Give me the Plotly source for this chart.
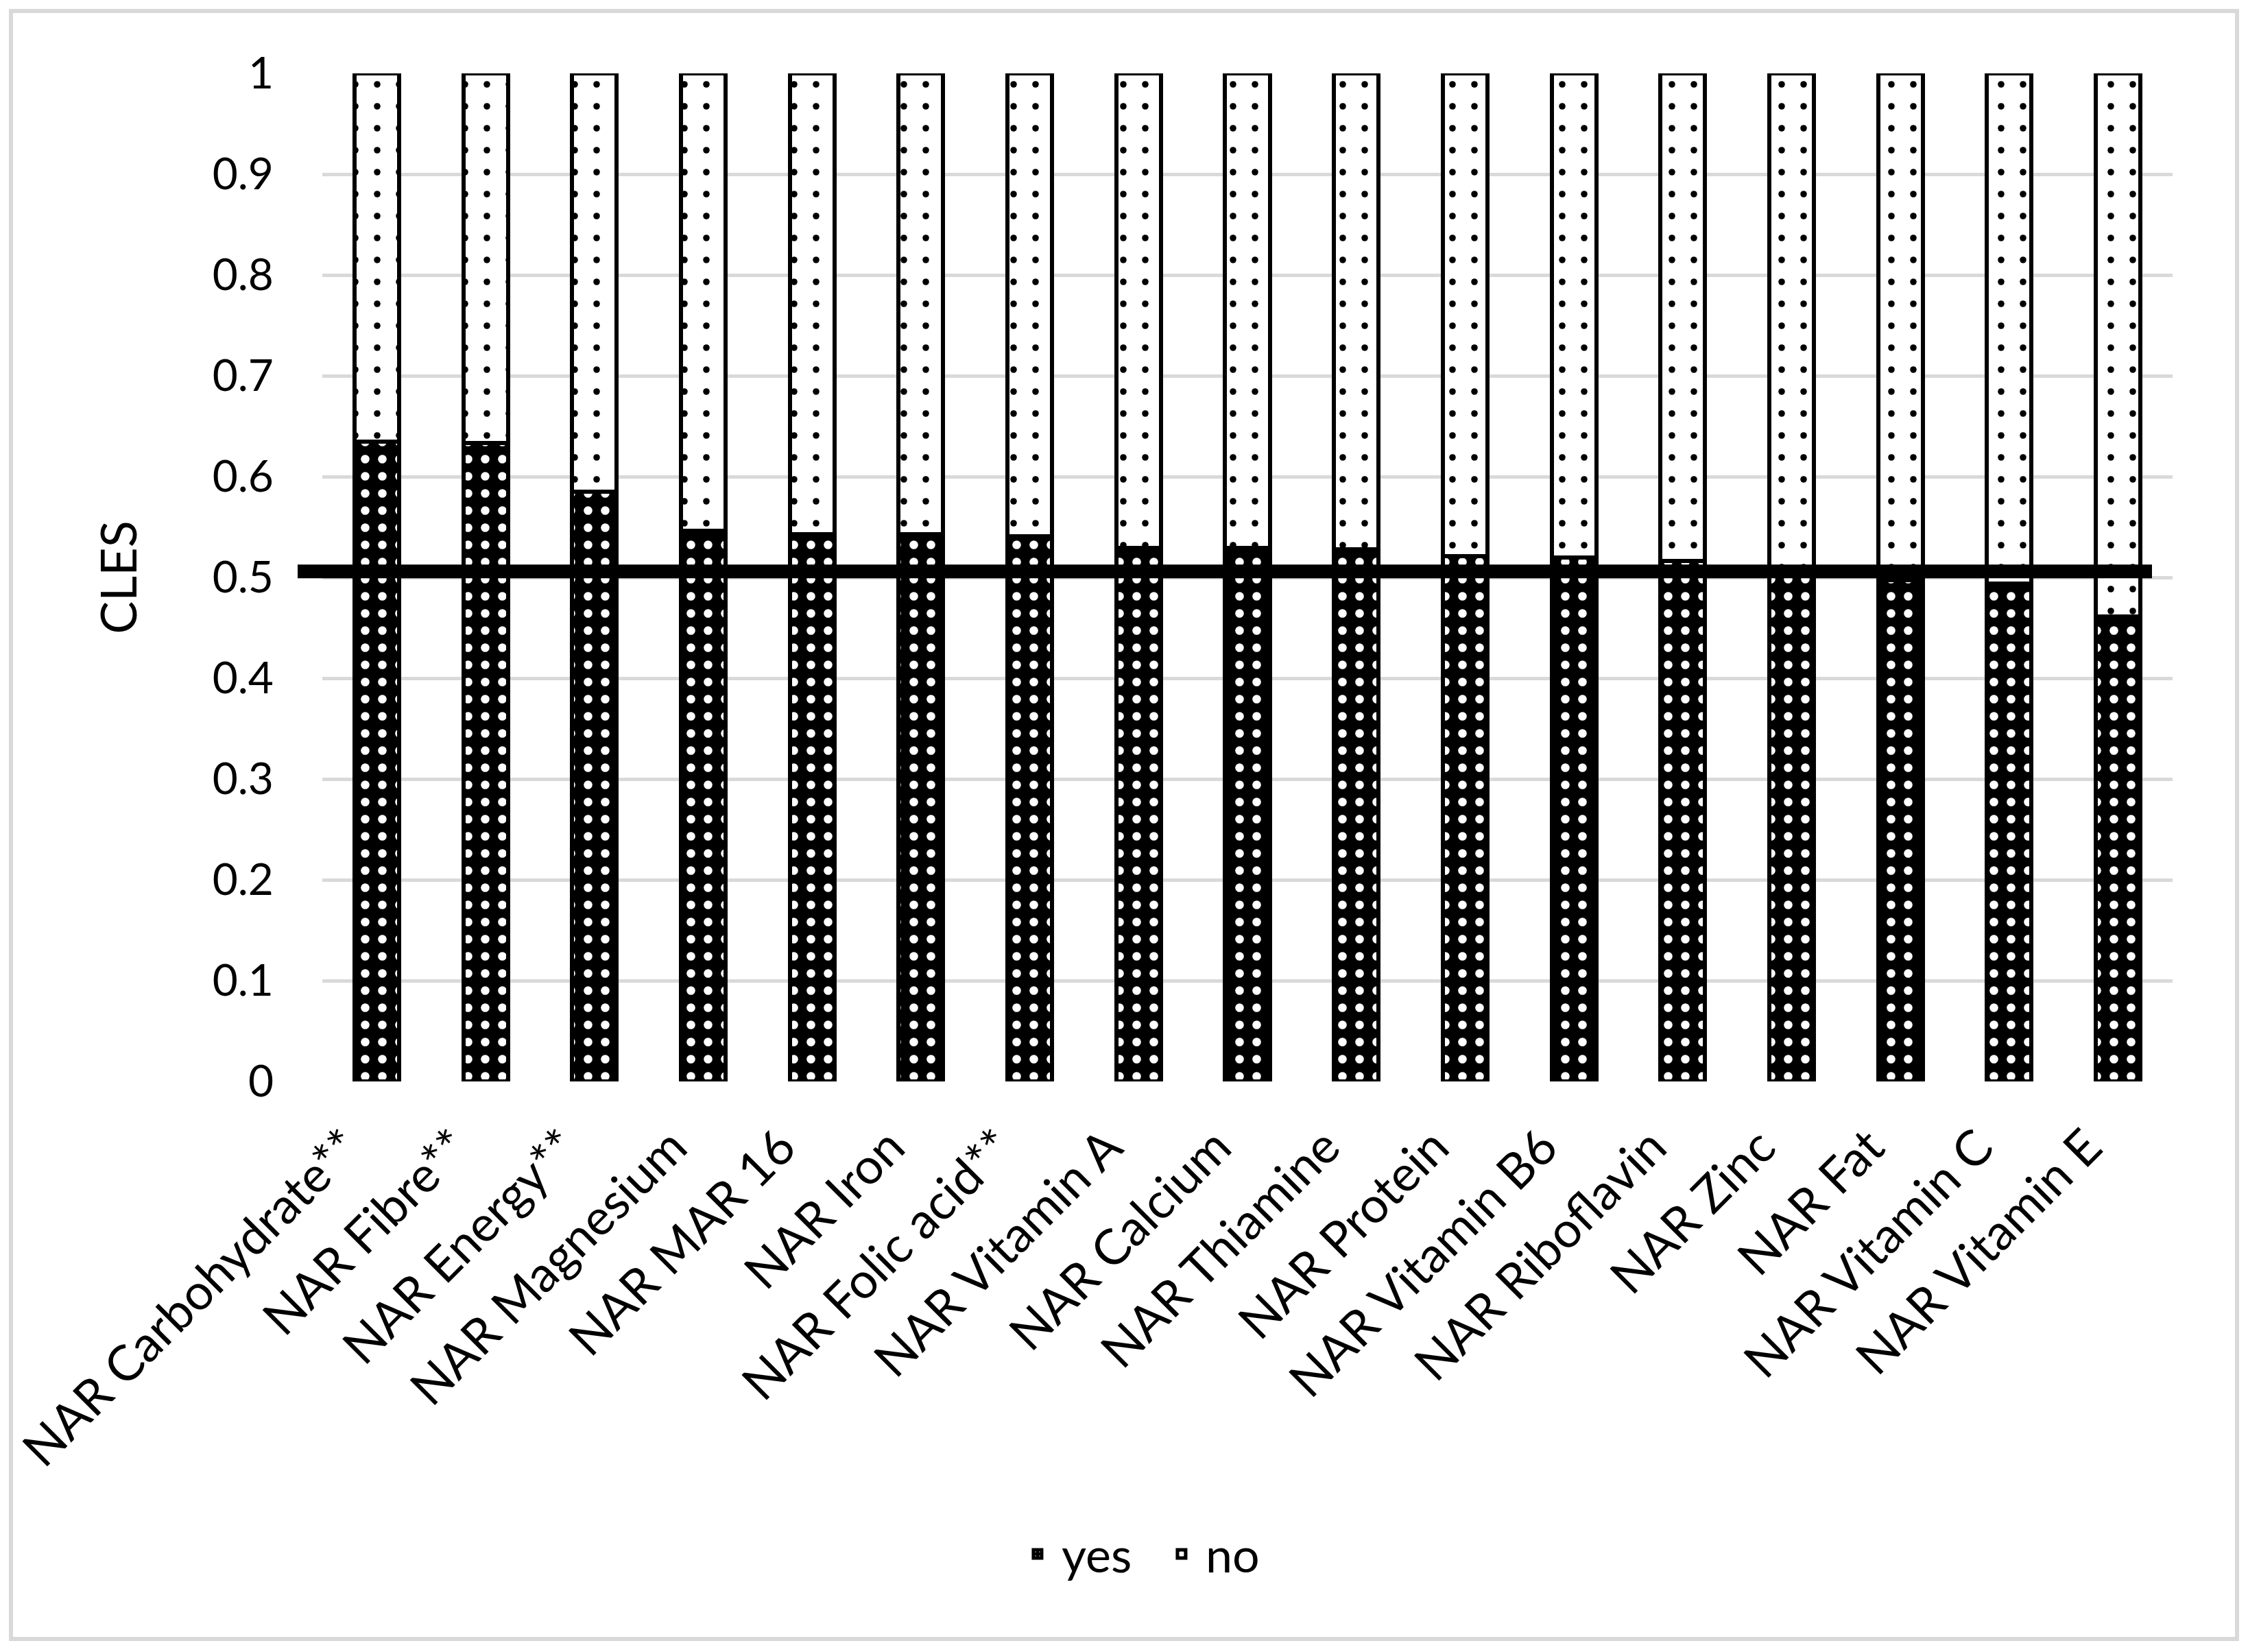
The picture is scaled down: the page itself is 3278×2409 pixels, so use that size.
import plotly.graph_objects as go

categories = [
    "NAR Carbohydrate**", "NAR Fibre**", "NAR Energy**", "NAR Magnesium",
    "NAR MAR 16", "NAR Iron", "NAR Folic acid**", "NAR Vitamin A",
    "NAR Calcium", "NAR Thiamine", "NAR Protein", "NAR Vitamin B6",
    "NAR Riboflavin", "NAR Zinc", "NAR Fat", "NAR Vitamin C", "NAR Vitamin E",
]
yes_values = [0.635, 0.633, 0.585, 0.546, 0.543, 0.543, 0.541, 0.529,
              0.529, 0.528, 0.521, 0.520, 0.516, 0.509, 0.497, 0.494, 0.461]
no_values = [round(1 - v, 3) for v in yes_values]
reference_value = 0.506
y_ticks = [0, 0.1, 0.2, 0.3, 0.4, 0.5, 0.6, 0.7, 0.8, 0.9, 1]

# page body has a default 8px margin: work in page pixels, then offset
OFF = 8
W, H = 3278 - 2 * OFF, 2409 - 2 * OFF
L, R, T, B = 470 - OFF, 3168 - OFF, 107 - OFF, 1577 - OFF
FONT = "Lato"

def px_x(p):
    return (p - OFF - L) / (R - L)

def px_y(p):
    return (B - (p - OFF)) / (B - T)

fig = go.Figure()
fig.add_trace(go.Bar(
    name="yes", x=categories, y=yes_values, width=0.41,
    marker=dict(
        color="black",
        line=dict(color="black", width=6),
        pattern=dict(shape=".", fgcolor="white", bgcolor="black",
                     size=25, solidity=0.2, fillmode="replace"),
    ),
))
fig.add_trace(go.Bar(
    name="no", x=categories, y=no_values, width=0.41,
    marker=dict(
        color="white",
        line=dict(color="black", width=6),
        pattern=dict(shape=".", fgcolor="black", bgcolor="white",
                     size=32, solidity=0.07, fillmode="replace"),
    ),
))

fig.update_layout(
    width=W, height=H,
    barmode="stack",
    paper_bgcolor="white", plot_bgcolor="white",
    margin=dict(l=L, r=W - R, t=T, b=H - B, autoexpand=False),
    font=dict(family=FONT, size=64, color="black"),
    showlegend=True,
    legend=dict(
        orientation="h", traceorder="normal",
        xref="container", yref="container",
        x=0.515, xanchor="center", y=1 - (2266 - OFF) / H, yanchor="middle",
        font=dict(family=FONT, size=70, color="black"),
        itemwidth=60, entrywidth=135, entrywidthmode="pixels",
    ),
    xaxis=dict(
        type="category", tickangle=-45, showgrid=False, showline=False,
        zeroline=False, ticks="", ticklabelstandoff=38, ticklabelshift=-45,
        tickfont=dict(family=FONT, size=72, color="black"),
        range=[-0.5, len(categories) - 0.5],
    ),
    yaxis=dict(
        range=[0, 1], tickvals=y_ticks, ticktext=[f"{v:g}" for v in y_ticks],
        showgrid=True, gridcolor="#d9d9d9", gridwidth=5,
        zeroline=False, showline=False, ticks="",
        ticklabelstandoff=70,
        tickfont=dict(family=FONT, size=64, color="black"),
        title=dict(text="CLES", standoff=86,
                   font=dict(family=FONT, size=72, color="black")),
    ),
    shapes=[
        dict(type="line", xref="paper", yref="y",
             x0=px_x(434), x1=px_x(3138), y0=reference_value, y1=reference_value,
             line=dict(color="black", width=20), layer="above"),
        dict(type="rect", xref="paper", yref="paper",
             x0=px_x(16), x1=px_x(3262), y0=px_y(2390), y1=px_y(16),
             line=dict(color="#d9d9d9", width=6), fillcolor="rgba(0,0,0,0)",
             layer="below"),
    ],
)

fig.write_html("out.html")
